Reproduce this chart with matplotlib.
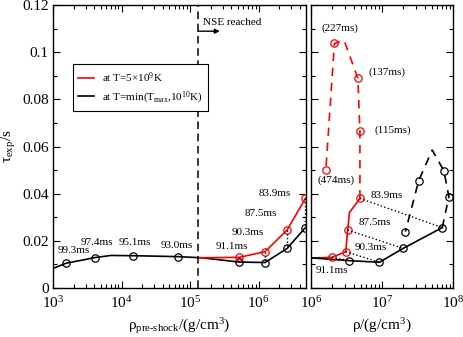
import matplotlib
matplotlib.use("Agg")
import matplotlib.pyplot as plt
from matplotlib.ticker import LogLocator, MultipleLocator, NullFormatter, FuncFormatter

plt.rcParams['font.family'] = ['Liberation Serif', 'DejaVu Serif']
plt.rcParams['mathtext.fontset'] = 'custom'
plt.rcParams['mathtext.rm'] = 'Liberation Serif'
plt.rcParams['mathtext.it'] = 'Liberation Serif:italic'
plt.rcParams['mathtext.default'] = 'regular'

RED = '#ff0000'

# ---- left panel: vs pre-shock density ----
pre_line_rho = [1e3, 1.55e3, 4.1e3, 7e3, 1.45e4, 6.6e4, 1.5e5, 5.2e5, 1.24e6, 2.6e6, 4.8e6]
pre_line_tau = [0.0083, 0.0105, 0.0129, 0.0138, 0.0137, 0.0133, 0.0128, 0.0110, 0.0108, 0.0168, 0.0256]
pre_black_rho = [1.55e3, 4.1e3, 1.45e4, 6.6e4, 5.2e5, 1.24e6, 2.6e6, 4.8e6]
pre_black_tau = [0.0105, 0.0129, 0.0137, 0.0133, 0.0110, 0.0108, 0.0168, 0.0256]
pre_red_line_rho = [1.3e5, 5.2e5, 1.24e6, 2.6e6, 4.8e6]
pre_red_line_tau = [0.0128, 0.0130, 0.0154, 0.0246, 0.038]
pre_red_rho = [5.2e5, 1.24e6, 2.6e6, 4.8e6]
pre_red_tau = [0.0130, 0.0154, 0.0246, 0.038]

pre_labels = ["99.3ms", "97.4ms", "95.1ms", "93.0ms", "91.1ms", "90.3ms", "87.5ms", "83.9ms"]
pre_label_x = [2.02e3, 4.4e3, 1.57e4, 6.4e4, 4.06e5, 6.96e5, 1.08e6, 1.72e6]
pre_label_y = [0.0161, 0.0195, 0.0191, 0.0182, 0.0174, 0.0237, 0.0318, 0.0399]

nse_rho = 1.29e5

# ---- right panel: vs density ----
red_line_rho = [1e6, 1.98e6, 3.1e6, 3.3e6, 3.5e6, 4.9e6]
red_line_tau = [0.0127, 0.0130, 0.0154, 0.0246, 0.032, 0.038]
red_rho = [1.98e6, 3.1e6, 3.3e6, 4.9e6]
red_tau = [0.0130, 0.0154, 0.0246, 0.038]
black_line_rho = [1e6, 3.5e6, 9.2e6, 1.98e7, 7.0e7]
black_line_tau = [0.0128, 0.0116, 0.0109, 0.0168, 0.0256]
black_rho = [3.5e6, 9.2e6, 1.98e7, 7.0e7]
black_tau = [0.0116, 0.0109, 0.0168, 0.0256]

red_dash_rho = [4.9e6, 4.9e6, 4.59e6, 2.94e6, 2.15e6, 1.63e6]
red_dash_tau = [0.038, 0.0666, 0.0889, 0.105, 0.1037, 0.050]
red_dash_mark = [1, 2, 4, 5]
black_dash_rho = [7.0e7, 8.67e7, 7.38e7, 5.06e7, 3.27e7, 2.13e7]
black_dash_tau = [0.0256, 0.0387, 0.0497, 0.0585, 0.0455, 0.0239]
black_dash_mark = [1, 2, 4, 5]

rho_labels = ["(227ms)", "(137ms)", "(115ms)", "(474ms)", "83.9ms", "87.5ms", "90.3ms", "91.1ms"]
rho_label_x = [2.59e6, 1.19e7, 1.4e7, 2.27e6, 1.15e7, 8.05e6, 7.06e6, 2.0e6]
rho_label_y = [0.1102, 0.0916, 0.067, 0.0458, 0.0394, 0.0276, 0.017, 0.0076]

W, H = 463, 337
fig = plt.figure(figsize=(W / 100, H / 100), dpi=100)
ax1 = fig.add_axes([53 / W, 1 - 288 / H, 253 / W, 283 / H])
ax2 = fig.add_axes([310.7 / W, 1 - 288 / H, 142.6 / W, 283 / H])

mk = dict(marker='o', mfc='none', ms=5.3, mew=0.9, ls='none')
lw = 1.2

# left panel
ax1.plot(pre_line_rho, pre_line_tau, color='k', lw=lw)
ax1.plot(pre_red_line_rho, pre_red_line_tau, color=RED, lw=lw)
ax1.plot(pre_black_rho, pre_black_tau, mec='k', **mk)
ax1.plot(pre_red_rho, pre_red_tau, mec=RED, **mk)
for r, t1, t2 in zip(pre_red_rho, pre_red_tau, pre_black_tau[-4:]):
    ax1.plot([r, r], [t1, t2], color='k', ls=':', lw=1)
for s, x, y in zip(pre_labels, pre_label_x, pre_label_y):
    ax1.text(x, y, s, ha='center', va='center', fontsize=8)
ax1.axvline(nse_rho, color='k', ls=(0, (5, 3)), lw=1.1)
ax1.text(nse_rho * 1.18, 0.1125, "NSE reached", fontsize=8, va='center')
ax1.annotate("", xy=(nse_rho * 2.1, 0.1089), xytext=(nse_rho, 0.1089),
             arrowprops=dict(arrowstyle='-|>', color='k', lw=1, mutation_scale=7,
                             shrinkA=0, shrinkB=0))

ax1.plot([], [], color=RED, lw=lw, label=r"at T=5$\times$10$^9$K")
ax1.plot([], [], color='k', lw=lw, label=r"at T=min(T$_{max}$,10$^{10}$K)")
leg = ax1.legend(loc='upper left', bbox_to_anchor=(0.078, 0.79), borderaxespad=0,
                 fancybox=False, framealpha=1, edgecolor='k', fontsize=8,
                 handlelength=1.45, handletextpad=0.7, borderpad=0.5, labelspacing=0.45)
leg.get_frame().set_linewidth(0.8)

ax1.set_xscale('log')
ax1.set_xlim(1e3, 4.9e6)
ax1.set_xlabel(r"$\rho_{pre\text{-}shock}/(g/cm^3)$", fontsize=11, labelpad=4)
ax1.set_ylabel(r"$\tau_{exp}/s$", fontsize=11, labelpad=3)

# right panel
ax2.plot(red_line_rho, red_line_tau, color=RED, lw=lw)
ax2.plot(black_line_rho, black_line_tau, color='k', lw=lw)
ax2.plot(red_dash_rho, red_dash_tau, color=RED, lw=lw, ls=(0, (5, 4)))
ax2.plot(black_dash_rho, black_dash_tau, color='k', lw=lw, ls=(0, (5, 4)))
ax2.plot(red_rho, red_tau, mec=RED, **mk)
ax2.plot(black_rho, black_tau, mec='k', **mk)
ax2.plot([red_dash_rho[i] for i in red_dash_mark], [red_dash_tau[i] for i in red_dash_mark], mec=RED, **mk)
ax2.plot([black_dash_rho[i] for i in black_dash_mark], [black_dash_tau[i] for i in black_dash_mark], mec='k', **mk)
for r1, t1, r2, t2 in zip(red_rho, red_tau, black_rho, black_tau):
    ax2.plot([r1, r2], [t1, t2], color='k', ls=':', lw=1)
for s, x, y in zip(rho_labels, rho_label_x, rho_label_y):
    ax2.text(x, y, s, ha='center', va='center', fontsize=8)

ax2.set_xscale('log')
ax2.set_xlim(1e6, 1e8)
ax2.set_xlabel(r"$\rho/(g/cm^3)$", fontsize=11, labelpad=4)

for ax in (ax1, ax2):
    ax.set_ylim(0, 0.12)
    ax.yaxis.set_major_locator(MultipleLocator(0.02))
    ax.yaxis.set_minor_locator(MultipleLocator(0.01))
    ax.xaxis.set_major_locator(LogLocator(base=10))
    ax.xaxis.set_minor_locator(LogLocator(base=10, subs=range(2, 10)))
    ax.xaxis.set_minor_formatter(NullFormatter())
    ax.tick_params(which='both', direction='in', top=True, right=True, labelsize=11)
    ax.tick_params(which='major', length=5, width=0.8, pad=3)
    ax.tick_params(which='minor', length=3, width=0.8)
    ax.tick_params(axis='x', which='major', pad=5)
    for sp in ax.spines.values():
        sp.set_linewidth(1.0)

ax1.yaxis.set_major_formatter(FuncFormatter(lambda v, p: "%g" % round(v, 3)))
ax2.tick_params(labelleft=False)

fig.savefig("out.png", dpi=100)
